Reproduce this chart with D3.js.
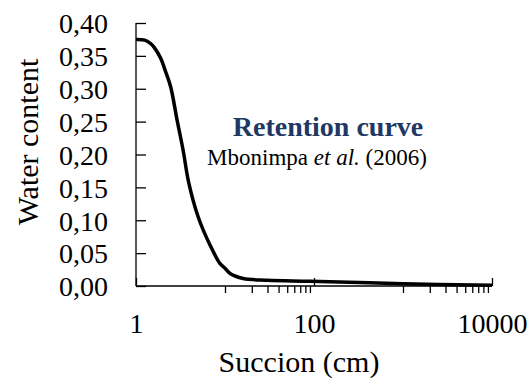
<!DOCTYPE html>
<html>
<head>
<meta charset="utf-8">
<script src="https://cdn.jsdelivr.net/npm/d3@7"></script>
<style>
  body { margin: 0; background: #fff; }
</style>
</head>
<body>
<div class="chart"></div>
<script>
// Data
var succion = [1, 1.25, 1.45, 1.6, 1.9, 2.15, 2.45, 2.9, 3.4, 3.9, 5.0, 6.8, 8.8, 10, 11.4, 16, 30, 90, 1000, 10000];
var waterContent = [0.375, 0.374, 0.369, 0.363, 0.346, 0.326, 0.303, 0.252, 0.205, 0.158, 0.105, 0.062, 0.034, 0.027, 0.019, 0.0115, 0.0088, 0.0072, 0.0035, 0.001];
var xTicks = [1, 100, 10000];
var xMinorTicks = [10, 20, 30, 40, 50, 60, 70, 80, 90, 1000, 2000, 3000, 4000, 5000, 6000, 7000, 8000, 9000];
var yTicks = [0, 0.05, 0.10, 0.15, 0.20, 0.25, 0.30, 0.35, 0.40];

var svgWidth = 529;
var svgHeight = 390;
var serif = "'Liberation Serif', 'Times New Roman', serif";

var margin = {
  top: 23,
  right: 37,
  bottom: 104,
  left: 136
};

var width = svgWidth - margin.left - margin.right;
var height = svgHeight - margin.top - margin.bottom;
var formatComma = function(d) { return d3.format(".2f")(d).replace(".", ","); };

var svg = d3
  .select(".chart")
  .append("svg")
  .attr("width", svgWidth)
  .attr("height", svgHeight)
  .style("font-family", serif);

var chart = svg.append("g")
  .attr("transform", `translate(${margin.left}, ${margin.top})`);

var x = d3.scaleLog().domain([1, 10000]).range([0, width]);
var y = d3.scaleLinear().domain([0, 0.40]).range([height, 0]);

var data = succion.map(function(s, i) {
  return { s: s, w: waterContent[i] };
});

// Y axis, ticks pointing inside
var yAxis = d3.axisLeft(y)
  .tickValues(yTicks)
  .tickSize(-10)
  .tickPadding(28)
  .tickFormat(formatComma);

var yG = chart.append("g")
  .attr("class", "y axis")
  .call(yAxis);

// X axis: major ticks up, minor ticks down
var xAxis = d3.axisBottom(x)
  .tickValues(xTicks)
  .tickSize(-8)
  .tickPadding(27)
  .tickFormat(d3.format("d"));

var xG = chart.append("g")
  .attr("class", "x axis")
  .attr("transform", `translate(0,${height})`)
  .call(xAxis);

var xMinor = d3.axisBottom(x)
  .tickValues(xMinorTicks)
  .tickSize(7)
  .tickFormat("");

chart.append("g")
  .attr("class", "x minor")
  .attr("transform", `translate(0,${height})`)
  .call(xMinor)
  .select(".domain").remove();

chart.selectAll(".axis path, .axis line, .minor line")
  .attr("stroke", "#000")
  .attr("stroke-width", 1.3);

chart.selectAll(".axis .domain")
  .attr("d", function() {
    return d3.select(this.parentNode).classed("x") ? `M0,0H${width}` : `M0,0V${height}`;
  });

chart.selectAll(".axis, .minor")
  .attr("font-family", serif);

chart.selectAll(".axis text")
  .style("font-family", serif)
  .style("font-size", "28px")
  .attr("fill", "#000");

yG.selectAll("text").attr("dy", "0.35em");
xG.selectAll("text").attr("dy", "0.71em");

// Curve
var line = d3.line()
  .x(function(d) { return x(d.s); })
  .y(function(d) { return y(d.w); })
  .curve(d3.curveCatmullRom.alpha(0.5));

chart.append("path")
  .datum(data)
  .attr("fill", "none")
  .attr("stroke", "#000")
  .attr("stroke-width", 3.5)
  .attr("d", line);

// Axis titles
svg.append("text")
  .attr("x", 299)
  .attr("y", 372)
  .style("text-anchor", "middle")
  .style("font-size", "30px")
  .text("Succion (cm)");

svg.append("text")
  .attr("transform", "rotate(-90)")
  .attr("x", -142)
  .attr("y", 38)
  .style("text-anchor", "middle")
  .style("font-size", "30px")
  .text("Water content");

// Annotation
svg.append("text")
  .attr("x", 328)
  .attr("y", 136)
  .style("text-anchor", "middle")
  .style("font-size", "28px")
  .style("font-weight", "bold")
  .style("fill", "#1F3864")
  .text("Retention curve");

var sub = svg.append("text")
  .attr("x", 317)
  .attr("y", 165)
  .style("text-anchor", "middle")
  .style("font-size", "23px");
sub.append("tspan").text("Mbonimpa ");
sub.append("tspan").style("font-style", "italic").text("et al.");
sub.append("tspan").text(" (2006)");
</script>
</body>
</html>
